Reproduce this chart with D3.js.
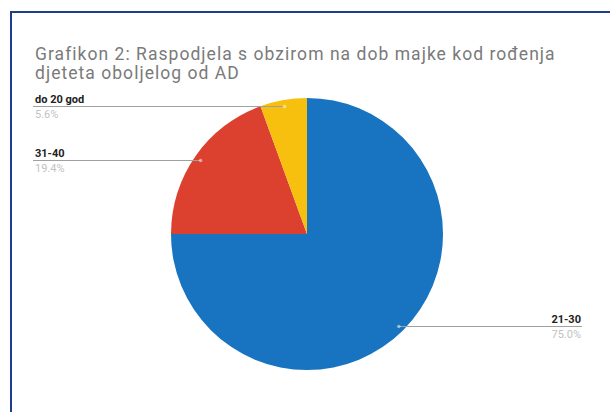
<!DOCTYPE html>
<html>
<head>
<meta charset="utf-8">
<script src="https://cdn.jsdelivr.net/npm/d3@7"></script>
<style>
  html, body { margin: 0; padding: 0; background: #fff; }
  svg { display: block; }
</style>
</head>
<body>
<svg id="chart" width="610" height="412"></svg>
<script>
// Age groups of the mother at the child's birth, in drawing order (clockwise from 12 o'clock)
const categories = ["21-30", "31-40", "do 20 god"];
const counts = [27, 7, 2];
const percentLabels = ["75.0%", "19.4%", "5.6%"];
const colors = ["#1874c1", "#dc412f", "#f8c00e"];
const titleLines = [
  "Grafikon 2: Raspodjela s obzirom na dob majke kod rođenja",
  "djeteta oboljelog od AD"
];

const svg = d3.select("#chart");
const W = 610, H = 412;
const font = "Roboto, 'Liberation Sans', Arial, sans-serif";

// outer frame (runs past the right and bottom edges)
svg.append("rect")
  .attr("x", 11).attr("y", 12)
  .attr("width", W + 20).attr("height", H + 20)
  .attr("fill", "#fff")
  .attr("stroke", "#1f3d8c").attr("stroke-width", 2);

// title; letter spacing widens the first line to the plot width
const titleText = svg.append("g").selectAll("text")
  .data(titleLines).join("text")
  .attr("x", 35)
  .attr("y", (d, i) => 60 + i * 19)
  .attr("font-family", font)
  .attr("font-size", 17.5)
  .attr("fill", "#7a7a7a")
  .text(d => d);
const firstLen = titleText.node().getComputedTextLength();
const spacing = Math.max(0, Math.min(1.2, (520 - firstLen) / titleLines[0].length));
titleText.attr("letter-spacing", spacing);

// pie
const cx = 307, cy = 234, R = 136;
const pie = d3.pie().sort(null).value(d => d.v);
const arcs = pie(categories.map((c, i) => ({ c, v: counts[i], i })));
const arc = d3.arc().innerRadius(0).outerRadius(R);

const g = svg.append("g").attr("transform", `translate(${cx},${cy})`);
g.selectAll("path")
  .data(arcs).join("path")
  .attr("d", arc)
  .attr("fill", d => colors[d.data.i]);

// leader lines and labels
const leftX = 35, rightX = 581;
const anchorR = R * 0.955;
arcs.forEach(a => {
  const mid = (a.startAngle + a.endAngle) / 2;
  const ax = cx + anchorR * Math.sin(mid);
  const ay = Math.round(cy - anchorR * Math.cos(mid)) + 0.5;
  const onRight = Math.sin(mid) > 0;
  const lx = onRight ? rightX : leftX;

  svg.append("line")
    .attr("x1", ax).attr("y1", ay)
    .attr("x2", onRight ? lx + 1 : lx - 2).attr("y2", ay)
    .attr("stroke", "#a0a0a0").attr("stroke-width", 1.2);
  svg.append("circle")
    .attr("cx", ax).attr("cy", ay).attr("r", 1.8)
    .attr("fill", "#fff").attr("fill-opacity", 0.5);

  svg.append("text")
    .attr("x", lx).attr("y", ay - 4)
    .attr("text-anchor", onRight ? "end" : "start")
    .attr("font-family", font)
    .attr("font-size", 11)
    .attr("font-weight", "bold")
    .attr("fill", "#222")
    .text(a.data.c);
  svg.append("text")
    .attr("x", lx).attr("y", ay + 11)
    .attr("text-anchor", onRight ? "end" : "start")
    .attr("font-family", font)
    .attr("font-size", 11)
    .attr("fill", "#c2c2c2")
    .text(percentLabels[a.data.i]);
});
</script>
</body>
</html>
